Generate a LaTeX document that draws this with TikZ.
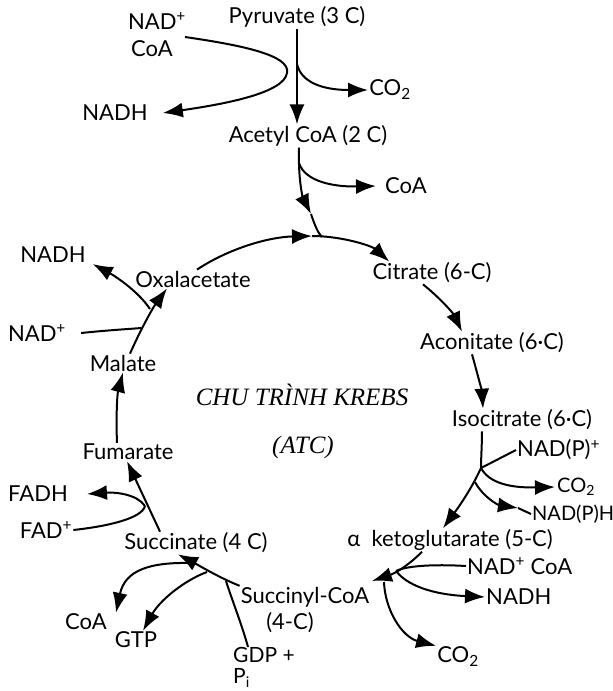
\documentclass[tikz,border=0pt]{standalone}
\usepackage{fontspec}
\setmainfont{Lato}
\newfontfamily\titlefont{Liberation Serif}
\usetikzlibrary{arrows.meta}
\begin{document}
\begin{tikzpicture}[x=1pt,y=-1pt,
  lbl/.style={font=\fontsize{22}{22}\selectfont, inner sep=1pt},
  small/.style={font=\fontsize{20}{20}\selectfont, inner sep=0pt},
  ttl/.style={font=\titlefont\itshape\fontsize{25}{26}\selectfont, inner sep=0pt},
  plain/.style={line width=2pt},
  flow/.style={plain, -{Latex[length=20pt,width=15pt]}}]
\useasboundingbox (0,0) rectangle (613,691);

% metabolites and cofactors
\node[lbl] (pyr)    at (297,17)  {Pyruvate (3 C)};
\node[lbl] (nadA)   at (157,21)  {NAD\textsuperscript{+}};
\node[lbl] (coaA)   at (152,49)  {CoA};
\node[lbl] (nadhA)  at (115,113) {NADH};
\node[lbl] (co2A)   at (390,90)  {CO\textsubscript{2}};
\node[lbl] (acoa)   at (308,136) {Acetyl CoA (2 C)};
\node[lbl] (coaB)   at (406,186) {CoA};
\node[lbl] (oxa)    at (193,279) {Oxalacetate};
\node[lbl] (cit)    at (432,273) {Citrate (6-C)};
\node[lbl] (aco)    at (492,343) {Aconitate (6·C)};
\node[lbl] (iso)    at (522,420) {Isocitrate (6·C)};
\node[lbl,anchor=west] (nadp)  at (516,450) {NAD(P)\textsuperscript{+}};
\node[small,anchor=west] (co2B)  at (557,487) {CO\textsubscript{2}};
\node[small,anchor=west] (nadph) at (532,514) {NAD(P)H};
\node[lbl] (akg)    at (450,540) {α\ \ ketoglutarate (5-C)};
\node[lbl,anchor=west] (nadcoa) at (466,566) {NAD\textsuperscript{+} CoA};
\node[lbl,anchor=west] (nadhC)  at (485,597) {NADH};
\node[lbl] (co2C)   at (458,657) {CO\textsubscript{2}};
\node[lbl] (scoa)   at (305,597) {Succinyl-CoA};
\node[lbl] (scoaC)  at (290,623) {(4-C)};
\node[lbl] (succ)   at (196,543) {Succinate (4 C)};
\node[lbl] (coaC)   at (86,622)  {CoA};
\node[lbl] (gtp)    at (136,640) {GTP};
\node[lbl,align=left,anchor=north west,inner sep=0pt,font=\fontsize{21}{21}\selectfont]
  (gdp) at (233,647) {GDP +\\P\textsubscript{i}};
\node[lbl] (fum)    at (128,452) {Fumarate};
\node[lbl] (fadh)   at (38,494)  {FADH};
\node[lbl] (fad)    at (46,530)  {FAD\textsuperscript{+}};
\node[lbl] (mal)    at (123,363) {Malate};
\node[lbl] (nadhB)  at (53,255)  {NADH};
\node[lbl] (nadB)   at (37,333)  {NAD\textsuperscript{+}};
\node[ttl] (ttl)    at (302,395) {CHU TRÌNH KREBS};
\node[ttl] (atc)    at (303,447) {(ATC)};

% branch points and mid-path arrow positions
\coordinate (nadIn) at (185,37);
\coordinate (jPy)   at (297,64);
\coordinate (jAc)   at (299,163);
\coordinate (mAc)   at (311,214);
\coordinate (mTop)  at (312,236);
\coordinate (jTop)  at (322,237);
\coordinate (jIs)   at (481,468);
\coordinate (jIs2)  at (475,482);
\coordinate (mNp)   at (518,508);
\coordinate (tKg)   at (372,581);
\coordinate (jKg1)  at (396,571);
\coordinate (jKg2)  at (384,582);
\coordinate (jSu1)  at (192,563);
\coordinate (jSu2)  at (207,572);
\coordinate (jSu3)  at (226,581);
\coordinate (jFu)   at (145,506);
\coordinate (jMa1)  at (141,328);
\coordinate (jMa2)  at (150,309);

% pyruvate -> acetyl CoA
\draw[flow] (pyr.south -| jPy) -- (acoa.north -| jPy);
\draw[flow] (jPy) .. controls (301,82) and (322,90) .. (co2A.west);
\draw[flow] (nadIn) .. controls (240,45) and (291,55) .. (287,73)
            .. controls (284,93) and (225,104) .. ([xshift=14pt]nadhA.east);

% acetyl CoA enters the cycle
\draw[flow] (acoa.south -| jAc) .. controls (298,180) and (303,198) .. (mAc);
\draw[plain] (mAc) .. controls (315,226) and (318,233) .. (jTop);
\draw[flow] (jAc) .. controls (305,182) and (335,187) .. ([xshift=-8pt]coaB.west);

% the cycle
\draw[flow] ([xshift=4pt]oxa.north) .. controls (228,249) and (268,237) .. (mTop);
\draw[flow] (mTop) .. controls (342,236) and (372,246) .. ([xshift=18pt]cit.north west);
\draw[flow] ([xshift=-9pt]cit.south) .. controls (440,298) and (453,313) .. ([xshift=-30pt]aco.north);
\draw[flow] ([xshift=-20pt]aco.south) .. controls (477,372) and (482,392) .. ([xshift=-39pt]iso.north);
\draw[plain] ([xshift=-40pt]iso.south) .. controls (482,445) and (481,458) .. (jIs);
\draw[flow] (jIs) .. controls (470,492) and (455,512) .. ([xshift=-7pt]akg.north);
\draw[plain] (nadp.west) -- (jIs);
\draw[flow] (jIs) .. controls (489,483) and (510,488) .. ([xshift=-2pt]co2B.west);
\draw[flow] (jIs2) .. controls (483,497) and (498,505) .. (mNp);
\draw[plain] (mNp) -- ([xshift=-1pt]nadph.west);
\draw[flow] ([xshift=-28pt]akg.south) .. controls (410,564) and (396,573) .. (tKg);
\draw[plain] (nadcoa.west) .. controls (432,564) and (406,566) .. (jKg1);
\draw[flow] (jKg1) .. controls (410,589) and (442,595) .. (nadhC.west);
\draw[flow] (jKg2) .. controls (385,610) and (402,637) .. (co2C.north west);
\draw[flow] (scoa.north west) .. controls (220,578) and (200,566) .. ([xshift=-18pt]succ.south);
\draw[flow] (jSu1) .. controls (150,562) and (125,570) .. ([xshift=8pt]coaC.north east);
\draw[flow] (jSu2) .. controls (185,580) and (160,600) .. ([xshift=7pt]gtp.north);
\draw[plain] ([xshift=15pt]gdp.north west) .. controls (242,625) and (232,600) .. (jSu3);
\draw[flow] ([xshift=-36pt]succ.north) -- ([xshift=-1pt]fum.south);
\draw[plain] (fad.east) .. controls (110,526) and (142,518) .. (jFu);
\draw[flow] (jFu) .. controls (137,494) and (115,492) .. ([xshift=18pt]fadh.east);
\draw[flow] ([xshift=-11pt]fum.north) .. controls (116,420) and (117,395) .. (mal.south);
\draw[flow] ([xshift=7pt]mal.north) .. controls (140,331) and (152,309) .. ([xshift=-26pt]oxa.south);
\draw[plain] ([xshift=14pt]nadB.east) .. controls (110,330) and (130,329) .. (jMa1);
\draw[flow] (jMa2) .. controls (138,291) and (115,276) .. ([xshift=6pt]nadhB.south east);
\end{tikzpicture}
\end{document}
